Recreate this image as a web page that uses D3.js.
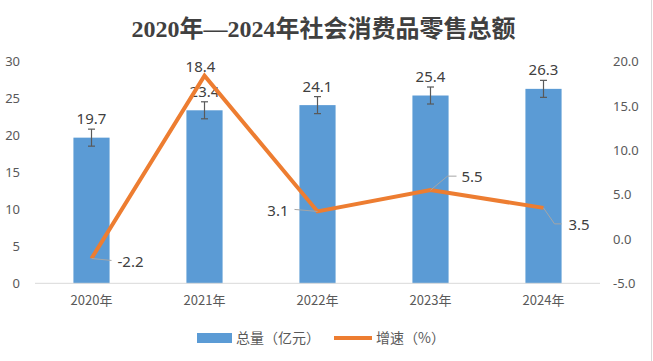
<!DOCTYPE html>
<html>
<head>
<meta charset="utf-8">
<script src="https://cdn.jsdelivr.net/npm/d3@7/dist/d3.min.js"></script>
<style>
  body { margin: 0; background: #fff; }
  svg { display: block; font-family: "Microsoft YaHei", "Noto Sans CJK SC", "DejaVu Sans", sans-serif; }
</style>
</head>
<body>
<svg id="chart" width="653" height="361"></svg>
<script>
// chart values
var years = ["2020年", "2021年", "2022年", "2023年", "2024年"];
var totals = [19.7, 23.4, 24.1, 25.4, 26.3];   // 总量（亿元）
var growth = [-2.2, 18.4, 3.1, 5.5, 3.5];      // 增速（%）
var errAmount = 1.15;
var leftTicks = [0, 5, 10, 15, 20, 25, 30];
var rightTicks = [-5, 0, 5, 10, 15, 20];

// where each growth label sits relative to its point (leader = elbow)
var growthLabelPos = [
  { dx: 26, dy: 3, anchor: "start", leader: [[0, 0], [20, 2]] },
  { dx: -4, dy: -9, anchor: "middle", leader: null },
  { dx: -29, dy: -1, anchor: "end", leader: [[0, 0], [-23, -2]] },
  { dx: 31, dy: -13, anchor: "start", leader: [[0, 0], [17, -14], [26, -14]] },
  { dx: 25, dy: 17, anchor: "start", leader: [[0, 0], [11, 16], [18, 16]] }
];

var svg = d3.select("#chart");
var W = 653, H = 361;
var plot = { left: 35, right: 600, top: 61.5, bottom: 283.3 };
var textColor = "#595959";

var x = d3.scalePoint().domain(years).range([plot.left, plot.right]).padding(0.5);
var step = x.step();
var barW = step * 0.32;
var yL = d3.scaleLinear().domain([0, 30]).range([plot.bottom, plot.top]);
var yR = d3.scaleLinear().domain([-5, 20]).range([plot.bottom, plot.top]);

// title
svg.append("text")
  .attr("x", W / 2 - 3).attr("y", 37)
  .attr("text-anchor", "middle")
  .style("font-family", "'Liberation Serif', 'Noto Sans CJK SC', serif")
  .style("font-weight", "bold")
  .style("font-size", "24px")
  .attr("fill", "#404040")
  .text("2020年—2024年社会消费品零售总额");

// left axis
var axL = svg.append("g").attr("transform", "translate(" + (plot.left - 12) + ",0)")
  .call(d3.axisLeft(yL).tickValues(leftTicks).tickSize(0).tickFormat(d3.format("d")));
axL.select(".domain").remove();
axL.selectAll("text").attr("fill", textColor).style("font-size", "13px")
  .style("font-family", "'Noto Sans', 'DejaVu Sans', sans-serif");

// right axis
var axR = svg.append("g").attr("transform", "translate(" + (plot.right + 10) + ",0)")
  .call(d3.axisRight(yR).tickValues(rightTicks).tickSize(0).tickFormat(d3.format(".1f")));
axR.select(".domain").remove();
axR.selectAll("text").attr("fill", textColor).style("font-size", "13px")
  .style("font-family", "'Noto Sans', 'DejaVu Sans', sans-serif")
  .text(function(d) { return d3.format(".1f")(d).replace("\u2212", "-"); });

// bars
svg.append("g").selectAll("rect")
  .data(totals)
  .enter().append("rect")
    .attr("x", function(d, i) { return x(years[i]) - barW / 2; })
    .attr("y", function(d) { return yL(d); })
    .attr("width", barW)
    .attr("height", function(d) { return yL(0) - yL(d); })
    .attr("fill", "#5B9BD5");

// baseline
svg.append("line")
  .attr("x1", plot.left).attr("x2", plot.right)
  .attr("y1", yL(0)).attr("y2", yL(0))
  .attr("stroke", "#D9D9D9").attr("stroke-width", 1);

// error bars
var eb = svg.append("g").attr("stroke", "#595959").attr("stroke-width", 1.2);
totals.forEach(function(d, i) {
  var cx = x(years[i]);
  var t = yL(d + errAmount), b = yL(d - errAmount);
  eb.append("line").attr("x1", cx).attr("x2", cx).attr("y1", t).attr("y2", b);
  eb.append("line").attr("x1", cx - 3.5).attr("x2", cx + 3.5).attr("y1", t).attr("y2", t);
  eb.append("line").attr("x1", cx - 3.5).attr("x2", cx + 3.5).attr("y1", b).attr("y2", b);
});

// bar labels
svg.append("g").selectAll("text")
  .data(totals)
  .enter().append("text")
    .attr("x", function(d, i) { return x(years[i]); })
    .attr("y", function(d) { return yL(d + errAmount) - 5; })
    .attr("text-anchor", "middle")
    .attr("fill", "#404040")
    .style("font-size", "15px")
    .style("font-family", "'Noto Sans', 'DejaVu Sans', sans-serif")
    .text(function(d) { return d.toFixed(1); });

// growth line
var line = d3.line()
  .x(function(d, i) { return x(years[i]); })
  .y(function(d) { return yR(d); });
svg.append("path")
  .datum(growth)
  .attr("d", line)
  .attr("fill", "none")
  .attr("stroke", "#ED7D31")
  .attr("stroke-width", 4)
  .attr("stroke-linejoin", "miter");

// leader lines + growth labels
var gl = svg.append("g");
growth.forEach(function(d, i) {
  var px = x(years[i]), py = yR(d), p = growthLabelPos[i];
  if (p.leader) {
    gl.append("polyline")
      .attr("points", p.leader.map(function(q) { return (px + q[0]) + "," + (py + q[1]); }).join(" "))
      .attr("fill", "none").attr("stroke", "#A6A6A6").attr("stroke-width", 1);
  }
  gl.append("text")
    .attr("x", px + p.dx).attr("y", py + p.dy)
    .attr("dy", "0.35em")
    .attr("text-anchor", p.anchor)
    .attr("fill", "#404040")
    .style("font-size", "15px")
    .style("font-family", "'Noto Sans', 'DejaVu Sans', sans-serif")
    .text(d.toFixed(1));
});

// x labels
svg.append("g").selectAll("text")
  .data(years)
  .enter().append("text")
    .attr("x", function(d) { return x(d); })
    .attr("y", 305)
    .attr("text-anchor", "middle")
    .attr("fill", textColor)
    .style("font-size", "13px")
    .text(function(d) { return d; });

// legend
var lg = svg.append("g").attr("transform", "translate(197,338)");
lg.append("rect").attr("x", 0).attr("y", -5).attr("width", 35).attr("height", 10).attr("fill", "#5B9BD5");
lg.append("text").attr("x", 39).attr("y", 0).attr("dy", "0.35em").attr("fill", textColor)
  .style("font-size", "14px").text("总量（亿元）");
lg.append("line").attr("x1", 137).attr("x2", 175).attr("y1", 0).attr("y2", 0)
  .attr("stroke", "#ED7D31").attr("stroke-width", 4);
lg.append("text").attr("x", 179).attr("y", 0).attr("dy", "0.35em").attr("fill", textColor)
  .style("font-size", "14px").text("增速（%）");

// right edge line (only visible edge of the chart frame)
svg.append("line").attr("x1", W - 1.5).attr("x2", W - 1.5).attr("y1", 0).attr("y2", H)
  .attr("stroke", "#D9D9D9").attr("stroke-width", 1);
</script>
</body>
</html>
